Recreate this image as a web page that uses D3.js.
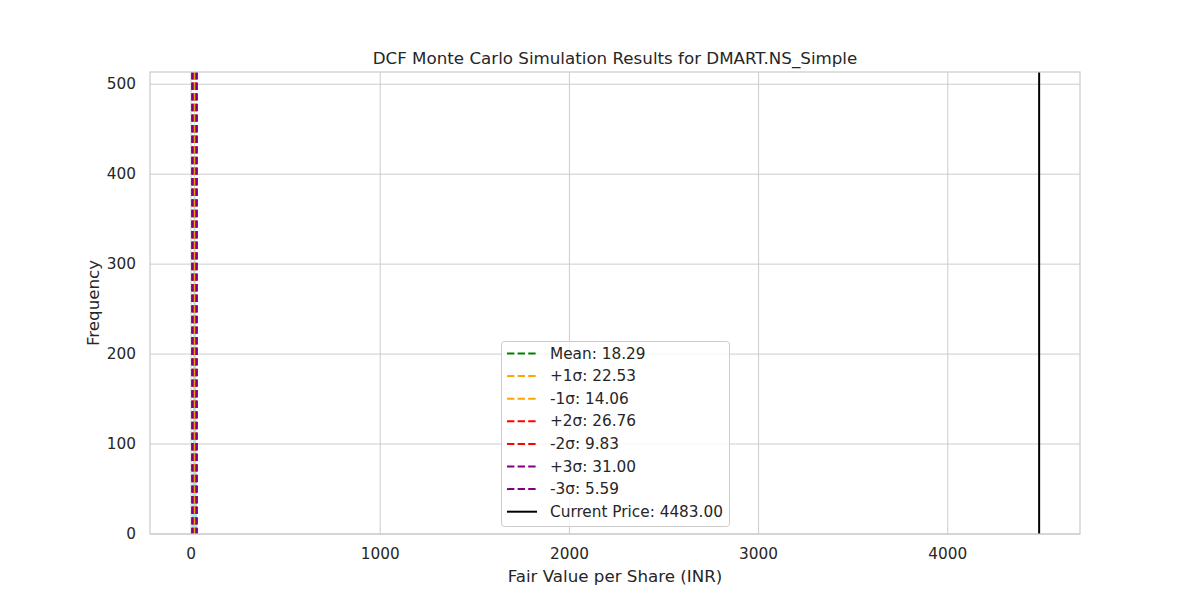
<!DOCTYPE html>
<html>
<head>
<meta charset="utf-8">
<script src="https://cdn.jsdelivr.net/npm/d3@7"></script>
<style>
  body { margin: 0; background: #fff; }
  text { font-family: "DejaVu Sans", sans-serif; fill: #262626; }
</style>
</head>
<body>
<svg id="chart" width="1200" height="600"></svg>
<script>
// DCF Monte Carlo fair value histogram with sigma bands and current price

const histStart = 1.5
const binWidth = 0.8
const binCounts = [1, 2, 3, 6, 10, 17, 28, 44, 64, 90, 122, 160, 201, 247, 294, 338, 381, 420, 452, 476,
	489, 486, 471, 447, 413, 374, 331, 287, 243, 201, 162, 128, 98, 73, 53, 38, 26, 17, 11, 7, 4, 3, 2, 1]

const statNames = ["Mean", "+1σ", "-1σ", "+2σ", "-2σ", "+3σ", "-3σ"]
const statValues = [18.29, 22.53, 14.06, 26.76, 9.83, 31.00, 5.59]
const statColors = ["green", "orange", "orange", "red", "red", "purple", "purple"]
const currentPrice = 4483.00

const xTicks = [0, 1000, 2000, 3000, 4000]
const yTicks = [0, 100, 200, 300, 400, 500]

const svg = d3.select("#chart")
const axLeft = 150, axRight = 1080, axTop = 72, axBottom = 534

const x = d3.scaleLinear().domain([-217, 4699]).range([axLeft, axRight])
const y = d3.scaleLinear().domain([0, 513.6]).range([axBottom, axTop])

// grid
svg.append("g").selectAll("line").data(xTicks).join("line")
	.attr("x1", d => x(d)).attr("x2", d => x(d))
	.attr("y1", axTop).attr("y2", axBottom)
	.attr("stroke", "#cccccc").attr("stroke-width", 1)
svg.append("g").selectAll("line").data(yTicks).join("line")
	.attr("x1", axLeft).attr("x2", axRight)
	.attr("y1", d => y(d)).attr("y2", d => y(d))
	.attr("stroke", "#cccccc").attr("stroke-width", 1)

// histogram bars
svg.append("g").selectAll("rect").data(binCounts).join("rect")
	.attr("x", (d, i) => x(histStart + i * binWidth))
	.attr("width", (d, i) => x(histStart + (i + 1) * binWidth) - x(histStart + i * binWidth))
	.attr("y", d => y(d))
	.attr("height", d => y(0) - y(d))
	.attr("fill", "skyblue")

// sigma lines
const stats = statNames.map((n, i) => ({name: n, value: statValues[i], color: statColors[i]}))
svg.append("g").selectAll("line").data(stats).join("line")
	.attr("x1", d => x(d.value)).attr("x2", d => x(d.value))
	.attr("y1", axTop).attr("y2", axBottom)
	.attr("stroke", d => d.color).attr("stroke-width", 2)
	.attr("stroke-dasharray", "7.4,3.2")

svg.append("line")
	.attr("x1", x(currentPrice)).attr("x2", x(currentPrice))
	.attr("y1", axTop).attr("y2", axBottom)
	.attr("stroke", "black").attr("stroke-width", 2)

// spines
svg.append("rect")
	.attr("x", axLeft).attr("y", axTop)
	.attr("width", axRight - axLeft).attr("height", axBottom - axTop)
	.attr("fill", "none").attr("stroke", "#cccccc").attr("stroke-width", 1.25)

// tick labels
svg.append("g").selectAll("text").data(xTicks).join("text")
	.attr("x", d => x(d)).attr("y", 559)
	.attr("text-anchor", "middle")
	.style("font-size", "15.3px")
	.text(d => d)
svg.append("g").selectAll("text").data(yTicks).join("text")
	.attr("x", 136).attr("y", d => y(d))
	.attr("text-anchor", "end").attr("dominant-baseline", "central")
	.style("font-size", "15.3px")
	.text(d => d)

// titles
svg.append("text")
	.attr("x", (axLeft + axRight) / 2).attr("y", 64)
	.attr("text-anchor", "middle")
	.style("font-size", "16.7px")
	.text("DCF Monte Carlo Simulation Results for DMART.NS_Simple")
svg.append("text")
	.attr("x", (axLeft + axRight) / 2).attr("y", 582)
	.attr("text-anchor", "middle")
	.style("font-size", "16.7px")
	.text("Fair Value per Share (INR)")
svg.append("text")
	.attr("transform", `translate(99,${(axTop + axBottom) / 2}) rotate(-90)`)
	.attr("text-anchor", "middle")
	.style("font-size", "16.7px")
	.text("Frequency")

// legend
const legendItems = stats.map(d => ({label: d.name + ": " + d.value.toFixed(2), color: d.color, dash: true}))
legendItems.push({label: "Current Price: " + currentPrice.toFixed(2), color: "black", dash: false})

const legend = svg.append("g")
legend.append("rect")
	.attr("x", 501.5).attr("y", 341.5)
	.attr("width", 228).attr("height", 185)
	.attr("rx", 3)
	.attr("fill", "white").attr("fill-opacity", 0.8)
	.attr("stroke", "#cccccc").attr("stroke-width", 1)

const rows = legend.selectAll("g.row").data(legendItems).join("g")
	.attr("transform", (d, i) => `translate(0,${353.5 + i * 22.6})`)
rows.append("line")
	.attr("x1", 507).attr("x2", 537)
	.attr("stroke", d => d.color).attr("stroke-width", 2)
	.attr("stroke-dasharray", d => d.dash ? "7.4,3.2" : null)
rows.append("text")
	.attr("x", 550).attr("dominant-baseline", "central")
	.style("font-size", "15.3px")
	.text(d => d.label)
</script>
</body>
</html>
